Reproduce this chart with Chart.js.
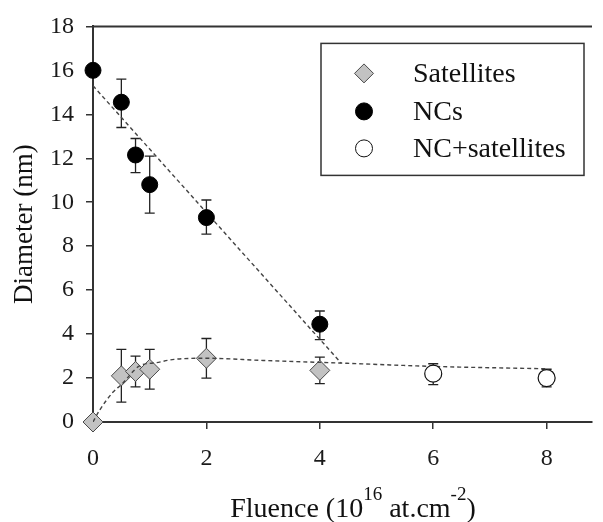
<!DOCTYPE html>
<html lang="en">
<head>
<meta charset="UTF-8" />
<title>Diameter vs fluence</title>
<script src="https://cdn.jsdelivr.net/npm/chart.js"></script>
<style>
  html, body { margin: 0; padding: 0; background: #fff; }
  #wrap { width: 603px; height: 522px; }
</style>
</head>
<body>
<div id="wrap"><canvas id="chart" width="603" height="522"></canvas></div>
<script>
// measured points (fluence in 1e16 at/cm2, diameter in nm)
const satX = [0, 0.5, 0.75, 1, 2, 4];
const satY = [0, 2.1, 2.3, 2.4, 2.9, 2.35];
const satLow = [0, 0.9, 1.6, 1.5, 2.0, 1.75];
const satHigh = [0, 3.3, 3.0, 3.3, 3.8, 2.95];

const ncX = [0, 0.5, 0.75, 1, 2, 4];
const ncY = [16.0, 14.55, 12.15, 10.8, 9.3, 4.45];
const ncLow = [16.0, 13.4, 11.35, 9.5, 8.55, 3.75];
const ncHigh = [16.0, 15.6, 12.9, 12.1, 10.1, 5.05];

const mixX = [6, 8];
const mixY = [2.2, 2.0];
const mixLow = [1.7, 1.6];
const mixHigh = [2.65, 2.4];

// dashed guide lines
const ncFitX = [0, 4.38];
const ncFitY = [15.3, 2.67];
const satFitX = [0, 0.12, 0.35, 0.5, 0.82, 1.12, 1.43, 2, 3, 4.38, 6, 8];
const satFitY = [0, 0.55, 1.35, 1.7, 2.55, 2.7, 2.85, 2.9, 2.8, 2.68, 2.53, 2.42];

const legendLabels = ["Satellites", "NCs", "NC+satellites"];

const FONT = "'Liberation Serif', 'Times New Roman', serif";
const AXIS = "#333";

const pts = (xs, ys) => xs.map((v, i) => ({ x: v, y: ys[i] }));

const errorBars = {
  id: "errorBars",
  beforeDatasetsDraw(chart) {
    const { ctx, scales: { x, y } } = chart;
    ctx.save();
    ctx.strokeStyle = "#222";
    ctx.lineWidth = 1.3;
    [[satX, satLow, satHigh], [ncX, ncLow, ncHigh], [mixX, mixLow, mixHigh]].forEach(([xs, lo, hi]) => {
      xs.forEach((v, i) => {
        if (lo[i] === hi[i]) return;
        const px = x.getPixelForValue(v);
        const y1 = y.getPixelForValue(lo[i]);
        const y2 = y.getPixelForValue(hi[i]);
        ctx.beginPath();
        ctx.moveTo(px, y1); ctx.lineTo(px, y2);
        ctx.moveTo(px - 5, y1); ctx.lineTo(px + 5, y1);
        ctx.moveTo(px - 5, y2); ctx.lineTo(px + 5, y2);
        ctx.stroke();
      });
    });
    ctx.restore();
  }
};

const decorations = {
  id: "decorations",
  afterDraw(chart) {
    const { ctx, chartArea: a } = chart;
    ctx.save();
    // top frame line
    ctx.strokeStyle = AXIS;
    ctx.lineWidth = 2;
    ctx.beginPath();
    ctx.moveTo(a.left, a.top);
    ctx.lineTo(a.right, a.top);
    ctx.stroke();

    // legend box
    const bx = a.left + 228, by = a.top + 17, bw = 263, bh = 132;
    ctx.lineWidth = 1.5;
    ctx.strokeStyle = "#333";
    ctx.strokeRect(bx, by, bw, bh);
    const rows = [by + 30, by + 68, by + 105];
    const ds = chart.data.datasets;
    [0, 1, 2].forEach(i => {
      const d = ds[i];
      ctx.fillStyle = d.pointBackgroundColor;
      ctx.strokeStyle = d.pointBorderColor;
      ctx.lineWidth = 1;
      Chart.helpers.drawPoint(ctx, {
        pointStyle: d.pointStyle,
        radius: i === 0 ? 9.5 : 8.5,
        borderWidth: 1,
        rotation: 0
      }, bx + 43, rows[i]);
      ctx.fillStyle = "#111";
      ctx.font = "28px " + FONT;
      ctx.textBaseline = "middle";
      ctx.textAlign = "left";
      ctx.fillText(legendLabels[i], bx + 92, rows[i] + 1);
    });

    // x-axis title with superscripts
    const parts = [
      ["Fluence (10", 28, 0],
      ["16", 19, -17],
      [" at.cm", 28, 0],
      ["-2", 19, -17],
      [")", 28, 0]
    ];
    let total = 0;
    parts.forEach(p => { ctx.font = p[1] + "px " + FONT; total += ctx.measureText(p[0]).width; });
    let cx = 353 - total / 2;
    const base = chart.height - 5;
    ctx.fillStyle = "#111";
    ctx.textBaseline = "alphabetic";
    parts.forEach(p => {
      ctx.font = p[1] + "px " + FONT;
      ctx.fillText(p[0], cx, base + p[2]);
      cx += ctx.measureText(p[0]).width;
    });
    ctx.restore();
  }
};

new Chart(document.getElementById("chart"), {
  type: "scatter",
  data: {
    datasets: [
      {
        label: legendLabels[0],
        data: pts(satX, satY),
        pointStyle: "rectRot",
        pointRadius: 10,
        pointBackgroundColor: "#c2c2c2",
        pointBorderColor: "#4a4a4a",
        pointBorderWidth: 1,
        order: 3,
        clip: false
      },
      {
        label: legendLabels[1],
        data: pts(ncX, ncY),
        pointStyle: "circle",
        pointRadius: 8,
        pointBackgroundColor: "#000",
        pointBorderColor: "#000",
        pointBorderWidth: 1,
        order: 0,
        clip: false
      },
      {
        label: legendLabels[2],
        data: pts(mixX, mixY),
        pointStyle: "circle",
        pointRadius: 8.5,
        pointBackgroundColor: "#fff",
        pointBorderColor: "#111",
        pointBorderWidth: 1.2,
        order: 0,
        clip: false
      },
      {
        label: "NC fit",
        type: "line",
        data: pts(ncFitX, ncFitY),
        borderColor: "#444",
        borderWidth: 1.4,
        borderDash: [4, 3],
        pointRadius: 0,
        fill: false,
        order: 2
      },
      {
        label: "Satellite fit",
        type: "line",
        data: pts(satFitX, satFitY),
        borderColor: "#444",
        borderWidth: 1.4,
        borderDash: [4, 3],
        pointRadius: 0,
        cubicInterpolationMode: "monotone",
        fill: false,
        order: 2
      }
    ]
  },
  options: {
    responsive: false,
    animation: false,
    events: [],
    layout: { padding: { top: 24, right: 0, left: 0, bottom: 0 } },
    plugins: {
      legend: { display: false },
      tooltip: { enabled: false }
    },
    scales: {
      x: {
        type: "linear",
        min: 0,
        max: 8.8,
        afterFit: s => { s.height = 100; },
        ticks: {
          stepSize: 2,
          includeBounds: false,
          font: { family: FONT, size: 24 },
          color: "#1a1a1a",
          padding: 15
        },
        grid: { display: true, drawOnChartArea: false, drawTicks: true, tickLength: 7, color: AXIS, lineWidth: 1.5 },
        border: { display: true, color: AXIS, width: 2 }
      },
      y: {
        min: 0,
        max: 18,
        afterFit: s => { s.width = 93; },
        ticks: {
          stepSize: 2,
          font: { family: FONT, size: 24 },
          color: "#1a1a1a",
          padding: 12
        },
        title: {
          display: true,
          text: "Diameter (nm)",
          font: { family: FONT, size: 27 },
          color: "#111",
          padding: { top: 9, bottom: 0 }
        },
        grid: { display: true, drawOnChartArea: false, drawTicks: true, tickLength: 7, color: AXIS, lineWidth: 1.5 },
        border: { display: true, color: AXIS, width: 2 }
      }
    }
  },
  plugins: [errorBars, decorations]
});
</script>
</body>
</html>
